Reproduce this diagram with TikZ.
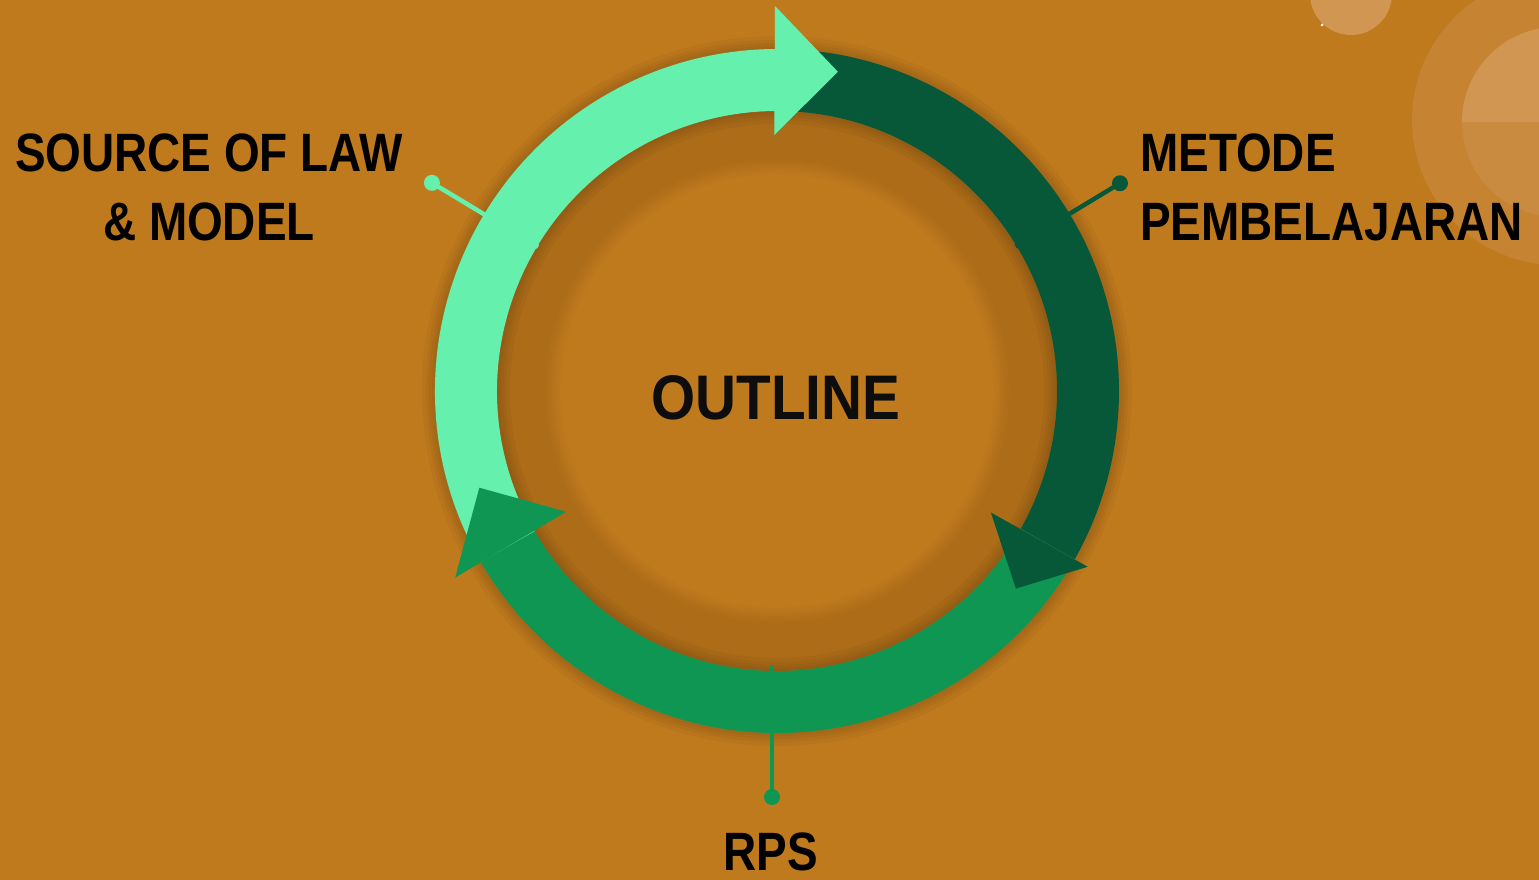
\documentclass[tikz,border=0pt]{standalone}
\usepackage{fontspec}
\newfontfamily\lblfont[FakeStretch=0.85]{Liberation Sans}
\newfontfamily\ctrfont[FakeStretch=0.9]{Liberation Sans}
\usetikzlibrary{calc}
\definecolor{bgc}{HTML}{C07A1E}
\definecolor{diskc}{HTML}{AD6C18}
\definecolor{lightg}{HTML}{66F0AE}
\definecolor{darkg}{HTML}{075839}
\definecolor{midg}{HTML}{0F9653}
\definecolor{decoA}{HTML}{C68432}
\definecolor{decoB}{HTML}{D09652}
\definecolor{decoC}{HTML}{C98B40}
\tikzset{
  ring/.style={line width=62pt},
  conn/.style={line width=4.5pt},
  dotnode/.style={circle, inner sep=0pt, minimum size=16pt},
  lbl/.style={inner sep=0pt, font=\lblfont\bfseries\fontsize{54}{60}\selectfont, text=black},
}
\begin{document}
\begin{tikzpicture}[x=1pt,y=1pt]
\fill[bgc] (0,0) rectangle (1539,880);
\useasboundingbox (0,0) rectangle (1539,880);
% background decorations
\begin{scope}
\clip (0,0) rectangle (1539,880);
\fill[decoA] (1557,760) circle (145);
\fill[decoC] (1557,758) circle (95);
\fill[decoB] (1462,758) arc[start angle=180, end angle=0, radius=95] -- cycle;
\fill[decoB] (1351,886) circle (41);
\fill[white] (1322,855) circle (1.5);
\end{scope}
\coordinate (C) at (777,489);
% inner disk
\fill[diskc] (C) circle (280);
\foreach \i in {0,...,8} {
  \pgfmathsetmacro\rr{234-2.2*\i}
  \pgfmathtruncatemacro\pp{\i*12.5}
  \fill[bgc!\pp!diskc] (C) circle (\rr);
}
% shadow of ring
\foreach \w in {88,80,74,68} {
  \draw[black, opacity=0.035, line width=\w pt] (C) circle (311);
}
% connectors
\node[dotnode, fill=lightg] (d1) at ($(C)+(148.9:403)$) {};
\coordinate (e1) at ($(C)+(148.9:279)$);
\draw[conn, lightg] (d1.center) -- (e1);
\node[dotnode, fill=darkg] (d2) at ($(C)+(31.2:401)$) {};
\coordinate (e2) at ($(C)+(31.2:279)$);
\draw[conn, darkg] (d2.center) -- (e2);
\node[dotnode, fill=midg] (d3) at (772,83) {};
\coordinate (e3) at (772,215);
\draw[conn, midg] (d3.center) -- (e3);
% ring arcs
\draw[ring, darkg] ($(C)+(90.3:311)$) arc[start angle=90.3, end angle=-29.5, radius=311];
\draw[ring, midg] ($(C)+(-29.5:311)$) arc[start angle=-29.5, end angle=-150, radius=311];
\draw[ring, lightg] ($(C)+(210:311)$) arc[start angle=210, end angle=90.3, radius=311];
% arrowheads
\fill[lightg] ($(C)+(90.3:385)$) -- ($(C)+(79.2:325)$) -- ($(C)+(90.6:256)$) -- cycle;
\fill[darkg] ($(C)+(-29.6:246)$) -- ($(C)+(-29.5:357)$) -- ($(C)+(-39.6:310)$) -- cycle;
\fill[midg] ($(C)+(210.1:372)$) -- ($(C)+(198:313)$) -- ($(C)+(209.8:243)$) -- cycle;
% labels
\node[lbl, anchor=base] (t1) at (209,708) {SOURCE OF LAW};
\node[lbl, anchor=base] (t1b) at (209,639) {\& MODEL};
\node[lbl, anchor=base west] (t2) at (1140,708) {METODE};
\node[lbl, anchor=base west] (t2b) at (1140,639) {PEMBELAJARAN};
\node[lbl, anchor=base] (t3) at (771,9) {RPS};
\node[inner sep=0pt, anchor=base, text={black!95}, font=\ctrfont\bfseries\fontsize{63}{66}\selectfont] (t0) at (776,460) {OUTLINE};
\end{tikzpicture}
\end{document}
